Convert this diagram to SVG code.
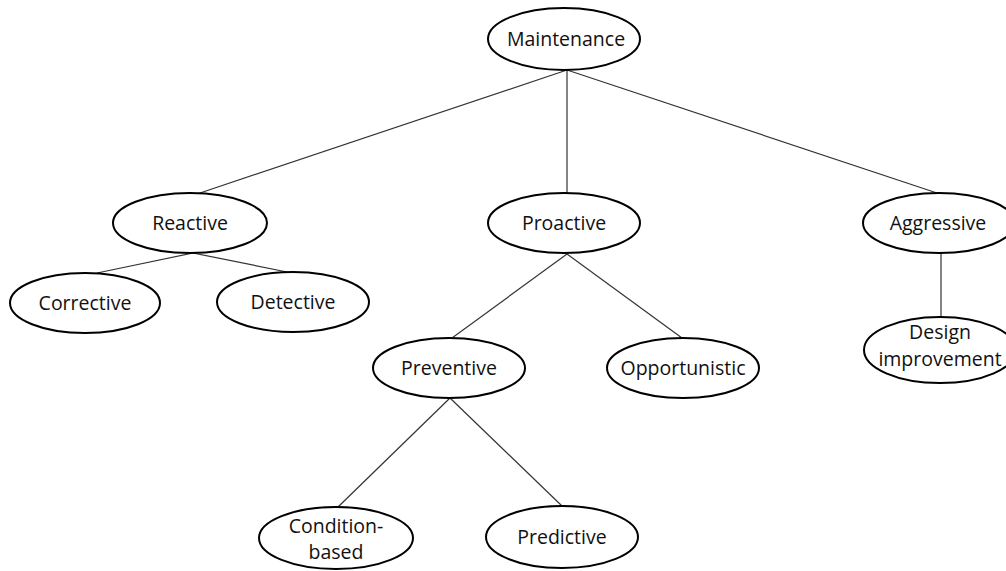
<svg xmlns="http://www.w3.org/2000/svg" width="1006" height="571" viewBox="0 0 1006 571">
  <style>
    .node ellipse { fill: #ffffff; stroke: #000000; stroke-width: 2; }
    .node text { font-family: "Open Sans", "Liberation Sans", sans-serif; font-size: 19.5px; fill: #111111; text-anchor: middle; }
    #connectors line { stroke: #333333; stroke-width: 1.2; }
  </style>
  <rect width="1006" height="571" fill="#ffffff"/>

  <g id="connectors">
    <line x1="567" y1="70" x2="197" y2="194"/>
    <line x1="567" y1="70" x2="567" y2="193"/>
    <line x1="567" y1="70" x2="937" y2="193"/>
    <line x1="193" y1="253" x2="97" y2="273"/>
    <line x1="193" y1="253" x2="287" y2="272"/>
    <line x1="567" y1="254" x2="452" y2="338"/>
    <line x1="567" y1="254" x2="682" y2="338"/>
    <line x1="450" y1="398" x2="338" y2="507"/>
    <line x1="450" y1="398" x2="562" y2="506"/>
    <line x1="941" y1="252" x2="941" y2="317"/>
  </g>

  <g id="maintenance" class="node">
    <ellipse cx="564" cy="39" rx="76" ry="31"/>
    <text x="566" y="46">Maintenance</text>
  </g>
  <g id="reactive" class="node">
    <ellipse cx="190" cy="223" rx="77" ry="30"/>
    <text x="190" y="230">Reactive</text>
  </g>
  <g id="proactive" class="node">
    <ellipse cx="564" cy="223" rx="76" ry="30"/>
    <text x="564" y="230">Proactive</text>
  </g>
  <g id="aggressive" class="node">
    <ellipse cx="939" cy="223" rx="76" ry="30"/>
    <text x="938" y="230">Aggressive</text>
  </g>
  <g id="corrective" class="node">
    <ellipse cx="85" cy="303" rx="75" ry="30"/>
    <text x="85" y="310">Corrective</text>
  </g>
  <g id="detective" class="node">
    <ellipse cx="293" cy="302" rx="76" ry="30"/>
    <text x="293" y="309">Detective</text>
  </g>
  <g id="preventive" class="node">
    <ellipse cx="449" cy="368" rx="76" ry="30"/>
    <text x="449" y="375">Preventive</text>
  </g>
  <g id="opportunistic" class="node">
    <ellipse cx="683" cy="368" rx="76" ry="30"/>
    <text x="683" y="375">Opportunistic</text>
  </g>
  <g id="design-improvement" class="node">
    <ellipse cx="940" cy="350" rx="76" ry="33"/>
    <text x="940" y="339">Design</text>
    <text x="940" y="366">improvement</text>
  </g>
  <g id="condition-based" class="node">
    <ellipse cx="336" cy="538" rx="77" ry="31"/>
    <text x="336" y="533">Condition-</text>
    <text x="336" y="559">based</text>
  </g>
  <g id="predictive" class="node">
    <ellipse cx="562" cy="537" rx="76" ry="31"/>
    <text x="562" y="544">Predictive</text>
  </g>
</svg>
